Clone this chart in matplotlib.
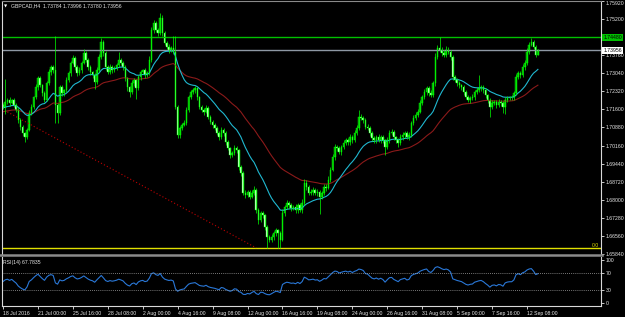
import numpy as np
import matplotlib.pyplot as plt
from matplotlib.lines import Line2D

plt.rcParams['font.family'] = ['Liberation Sans', 'DejaVu Sans']
FS = 3.7

# GBPCAD H4 closes, 18 Jul 2016 08:00 onwards
closes = [
    1.7170, 1.7190, 1.7198, 1.7186, 1.7198, 1.7178, 1.7158, 1.7118, 1.7090, 1.7066,
    1.7050, 1.7078, 1.7146, 1.7170, 1.7209, 1.7249, 1.7285, 1.7257, 1.7225, 1.7198,
    1.7265, 1.7309, 1.7329, 1.7317, 1.7178, 1.7146, 1.7249, 1.7225, 1.7237, 1.7277,
    1.7305, 1.7345, 1.7365, 1.7329, 1.7305, 1.7317, 1.7345, 1.7385, 1.7357, 1.7329,
    1.7309, 1.7297, 1.7269, 1.7317, 1.7369, 1.7429, 1.7385, 1.7329, 1.7309, 1.7329,
    1.7317, 1.7325, 1.7337, 1.7357, 1.7345, 1.7329, 1.7285, 1.7249, 1.7229, 1.7265,
    1.7277, 1.7245, 1.7289, 1.7309, 1.7317, 1.7297, 1.7305, 1.7357, 1.7476, 1.7504,
    1.7476, 1.7464, 1.7524, 1.7464, 1.7425, 1.7409, 1.7397, 1.7405, 1.7389, 1.7170,
    1.7058, 1.7086, 1.7098, 1.7106, 1.7158, 1.7209, 1.7229, 1.7237, 1.7245, 1.7209,
    1.7170, 1.7158, 1.7150, 1.7166, 1.7130, 1.7110, 1.7098, 1.7086, 1.7066, 1.7050,
    1.7078, 1.7066, 1.7030, 1.7006, 1.6978, 1.6986, 1.7006, 1.6998, 1.6931, 1.6907,
    1.6827, 1.6819, 1.6831, 1.6811, 1.6827, 1.6839, 1.6759, 1.6719, 1.6747, 1.6739,
    1.6691, 1.6652, 1.6640, 1.6652, 1.6667, 1.6679, 1.6667, 1.6640, 1.6747, 1.6771,
    1.6787, 1.6779, 1.6767, 1.6771, 1.6759, 1.6779, 1.6759, 1.6787, 1.6867, 1.6851,
    1.6827, 1.6831, 1.6839, 1.6827, 1.6831, 1.6811, 1.6827, 1.6851, 1.6847, 1.6879,
    1.6919, 1.6970, 1.7010, 1.7006, 1.6990, 1.7010, 1.7026, 1.7038, 1.7030, 1.7050,
    1.7038, 1.7066, 1.7086, 1.7130, 1.7126, 1.7118, 1.7090, 1.7086, 1.7066, 1.7046,
    1.7038, 1.7050, 1.7038, 1.7050, 1.7038, 1.7010, 1.7038, 1.7066, 1.7070, 1.7050,
    1.7038, 1.7026, 1.7050, 1.7058, 1.7066, 1.7050, 1.7058, 1.7106, 1.7126, 1.7138,
    1.7150, 1.7186, 1.7209, 1.7229, 1.7245, 1.7225, 1.7217, 1.7265, 1.7369, 1.7405,
    1.7397, 1.7385, 1.7377, 1.7397, 1.7389, 1.7369, 1.7289, 1.7277, 1.7265, 1.7257,
    1.7249, 1.7229, 1.7209, 1.7198, 1.7206, 1.7209, 1.7229, 1.7237, 1.7245, 1.7249,
    1.7237, 1.7217, 1.7198, 1.7170, 1.7186, 1.7190, 1.7178, 1.7190, 1.7186, 1.7170,
    1.7198, 1.7206, 1.7209, 1.7209, 1.7225, 1.7289, 1.7305, 1.7297, 1.7329, 1.7345,
    1.7389, 1.7417, 1.7429, 1.7409, 1.7378, 1.73956,
]
first_open = 1.7178

# wick lengths above / below the body, in pips
wick_up = [
    8, 90, 6, 10, 5, 8, 6, 10, 7, 6, 5, 8, 12, 10, 6, 14, 8, 10, 6, 7,
    10, 12, 9, 8, 135, 6, 10, 8, 6, 12, 10, 8, 12, 6, 8, 10, 6, 14, 8, 6,
    7, 6, 8, 10, 12, 16, 8, 6, 7, 10, 6, 8, 7, 32, 8, 6, 7, 6, 5, 12,
    8, 6, 10, 8, 6, 7, 10, 16, 12, 14, 10, 8, 20, 12, 8, 7, 10, 8, 47, 63,
    6, 8, 6, 10, 12, 8, 10, 7, 9, 6, 6, 8, 6, 10, 6, 8, 6, 7, 6, 8,
    10, 8, 6, 7, 6, 10, 12, 8, 6, 7, 6, 10, 8, 7, 12, 14, 6, 7, 10, 8,
    6, 8, 7, 10, 8, 10, 6, 7, 16, 10, 12, 8, 10, 8, 12, 10, 8, 14, 16, 10,
    8, 12, 10, 8, 10, 6, 8, 12, 10, 14, 10, 12, 14, 8, 10, 8, 12, 10, 8, 12,
    8, 10, 12, 28, 10, 8, 6, 10, 8, 6, 8, 10, 12, 8, 10, 6, 14, 10, 12, 8,
    6, 8, 12, 10, 8, 6, 10, 8, 10, 12, 10, 12, 8, 14, 10, 8, 12, 10, 14, 12,
    43, 10, 12, 14, 10, 8, 6, 10, 8, 7, 6, 8, 7, 10, 8, 12, 10, 14, 52, 10,
    8, 7, 6, 8, 10, 8, 7, 10, 6, 8, 10, 8, 6, 7, 10, 12, 10, 8, 12, 10,
    14, 12, 16, 8, 6, 4,
]
wick_dn = [
    10, 30, 8, 12, 6, 10, 8, 12, 14, 10, 20, 8, 6, 10, 8, 6, 10, 8, 12, 10,
    6, 8, 10, 12, 72, 40, 8, 12, 10, 6, 8, 10, 6, 12, 10, 8, 10, 6, 8, 12,
    10, 12, 28, 8, 6, 10, 12, 10, 8, 6, 10, 8, 6, 10, 8, 12, 10, 14, 20, 8,
    10, 44, 8, 10, 6, 12, 8, 6, 8, 10, 8, 12, 6, 10, 8, 10, 12, 8, 10, 10,
    12, 10, 8, 6, 8, 10, 6, 8, 10, 12, 10, 8, 12, 6, 10, 8, 12, 10, 8, 12,
    8, 12, 10, 8, 12, 6, 8, 10, 12, 14, 10, 12, 8, 10, 6, 8, 12, 14, 8, 10,
    12, 44, 10, 8, 12, 10, 59, 32, 6, 10, 8, 12, 10, 8, 10, 12, 8, 10, 6, 12,
    10, 8, 12, 10, 14, 68, 10, 8, 12, 6, 8, 6, 10, 12, 8, 10, 6, 8, 12, 10,
    12, 8, 6, 10, 8, 12, 10, 8, 12, 10, 10, 12, 8, 10, 12, 32, 8, 10, 6, 12,
    10, 14, 8, 10, 12, 8, 10, 6, 8, 10, 8, 6, 10, 8, 12, 10, 8, 6, 10, 8,
    10, 12, 8, 10, 8, 12, 10, 8, 12, 10, 12, 10, 8, 10, 12, 8, 10, 6, 8, 12,
    10, 12, 14, 40, 10, 8, 12, 10, 12, 24, 30, 10, 8, 12, 10, 6, 8, 12, 8, 10,
    8, 10, 6, 10, 8, 0,
]

time_labels = ['18 Jul 2016', '21 Jul 00:00', '25 Jul 16:00', '28 Jul 08:00', '2 Aug 00:00',
               '4 Aug 16:00', '9 Aug 08:00', '12 Aug 00:00', '16 Aug 16:00', '19 Aug 08:00',
               '24 Aug 00:00', '26 Aug 16:00', '31 Aug 08:00', '5 Sep 00:00', '7 Sep 16:00',
               '12 Sep 08:00']
bars_per_label = 16

price_ticks = [1.7592, 1.7520, 1.7448, 1.7376, 1.7304, 1.7232, 1.7160, 1.7088,
               1.7016, 1.6944, 1.6872, 1.6800, 1.6728, 1.6656, 1.6584]
resistance = 1.74480
bid = 1.73956
fib_bars = [2, 116]
fib_prices = [1.7150, 1.6608]
ma_fast_seed, ma_slow_seed = 1.7166, 1.7150
rsi_value_text = 'RSI(14) 67.7835'


def ema(values, period, seed):
    k = 2.0 / (period + 1)
    out, prev = [], seed
    for v in values:
        prev = prev + k * (v - prev)
        out.append(prev)
    return np.array(out)


def rsi(values, period=14):
    gain, loss = 0.001, 0.001
    out = []
    prev = values[0]
    for v in values:
        d = v - prev
        prev = v
        gain = (gain * (period - 1) + max(d, 0)) / period
        loss = (loss * (period - 1) + max(-d, 0)) / period
        out.append(100 - 100 / (1 + gain / loss))
    return np.array(out)


c = np.array(closes)
o = np.concatenate([[first_open], c[:-1]])
hi = np.maximum(o, c) + np.array(wick_up) * 0.0001
lo = np.minimum(o, c) - np.array(wick_dn) * 0.0001
x = np.arange(len(c))

W, H = 625, 317
fig = plt.figure(figsize=(W / 100, H / 100), dpi=100, facecolor='black')
ax = fig.add_axes([2 / W, 63 / H, 599 / W, 253 / H], facecolor='black')
rax = fig.add_axes([2 / W, 11 / H, 599 / W, 49 / H], facecolor='black')

for a in (ax, rax):
    a.set_xlim(-0.46, 273.9)
    for s in a.spines.values():
        s.set_color('#d8d8d8')
        s.set_linewidth(0.8)
    a.yaxis.tick_right()
    a.tick_params(axis='y', colors='#e8e8e8', length=2.5, width=0.6, pad=1, labelsize=FS)

# main price window
ax.set_ylim(1.65838, 1.75920)
ax.spines['bottom'].set_visible(False)
ax.spines['top'].set_color('#8a8a8a')
ax.tick_params(axis='x', bottom=False, labelbottom=False)
ax.set_yticks(price_ticks)
# the resistance level has its own coloured price tag on the scale
ax.set_yticklabels(['' if abs(p - resistance) < 1e-6 else '%.5f' % p for p in price_ticks])
ax.get_yticklabels()[0].set_verticalalignment('top')

ax.axhline(resistance, color='#00c000', lw=1.0)
ax.axhline(bid, color='#8e98a4', lw=1.0)
ax.axhline(fib_prices[1], color='#e0e000', lw=1.0)
ax.plot(fib_bars, fib_prices, color='#c00000', lw=0.8, ls=(0, (1, 2)))
ax.text(0.996, fib_prices[1], '0.0', color='#e0e000', fontsize=FS,
        ha='right', va='bottom', transform=ax.get_yaxis_transform())

ax.plot(x, ema(c, 50, ma_slow_seed), color='#8b1a1a', lw=0.8)
ax.plot(x, ema(c, 20, ma_fast_seed), color='#20b8d0', lw=0.8)

bull = c >= o
ax.vlines(x, lo, hi, color='#00ff00', lw=0.5)
ax.bar(x[bull], (c - o)[bull], bottom=o[bull], width=0.7, color='#00a800',
       edgecolor='#00ff00', lw=0.3)
ax.bar(x[~bull], (o - c)[~bull], bottom=c[~bull], width=0.7, color='#d8ffd8',
       edgecolor='#00ff00', lw=0.3)

ax.text(1.004, resistance, '%.5f' % resistance, transform=ax.get_yaxis_transform(),
        fontsize=FS, color='black', va='center', ha='left',
        bbox=dict(boxstyle='square,pad=0.2', fc='#00c000', ec='none'))
ax.text(1.004, bid, '%.5f' % bid, transform=ax.get_yaxis_transform(),
        fontsize=FS, color='black', va='center', ha='left',
        bbox=dict(boxstyle='square,pad=0.2', fc='white', ec='none'))

fig.text(4 / W, 1 - 6 / H, '\u25bc', color='white', fontsize=3, va='center',
         family=['DejaVu Sans'])
fig.text(11 / W, 1 - 6 / H, 'GBPCAD,H4  1.73784 1.73996 1.73780 1.73956',
         color='#e8e8e8', fontsize=FS, va='center')

fig.add_artist(Line2D([0, 602 / W], [1 - 255 / H] * 2, color='#8a8a8a', lw=1.8))

# RSI window
rax.set_ylim(-7, 107)
rax.spines['top'].set_visible(False)
rax.plot(x, rsi(c), color='#2a78d8', lw=0.8)
for lvl in (70, 30):
    rax.axhline(lvl, color='#a0a0a0', lw=0.6, ls=(0, (1, 1.5)))
rax.set_yticks([100, 70, 30, 0])
rax.set_yticklabels(['100', '70', '30', '0'])
rax.text(0.002, 0.88, rsi_value_text, transform=rax.transAxes, color='#e8e8e8',
         fontsize=FS, va='center', ha='left')

rax.set_xticks(np.arange(len(time_labels)) * bars_per_label)
rax.set_xticklabels(time_labels, ha='left')
rax.tick_params(axis='x', colors='#e8e8e8', length=2.5, width=0.6, pad=1, labelsize=FS)

fig.savefig('out.png', dpi=100, facecolor='black')
